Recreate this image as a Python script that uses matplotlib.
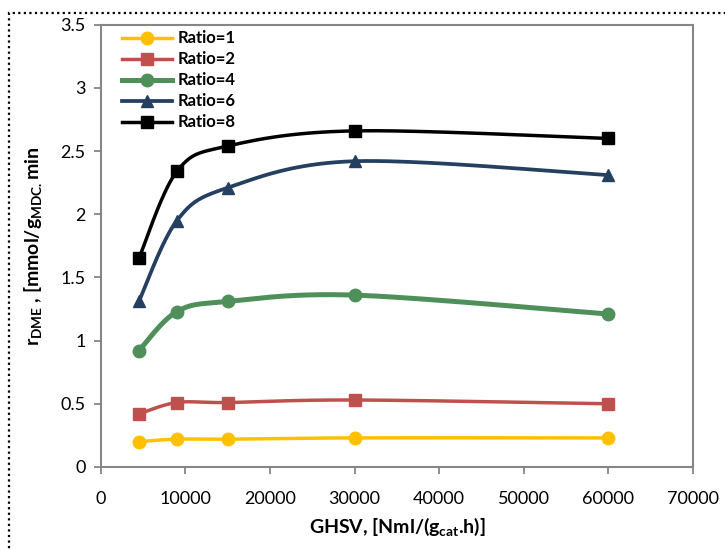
import numpy as np
import matplotlib
matplotlib.use("Agg")
import matplotlib.pyplot as plt
from matplotlib.patches import Rectangle

plt.rcParams['font.family'] = ['Lato', 'DejaVu Sans']
plt.rcParams['mathtext.fontset'] = 'custom'
plt.rcParams['mathtext.rm'] = 'Lato'
plt.rcParams['mathtext.bf'] = 'Lato:bold'

# GHSV values and rates for each feed ratio
ghsv = [4500, 9000, 15000, 30000, 60000]
ratio1 = [0.20, 0.22, 0.22, 0.23, 0.23]
ratio2 = [0.42, 0.51, 0.51, 0.53, 0.50]
ratio4 = [0.92, 1.23, 1.31, 1.36, 1.21]
ratio6 = [1.31, 1.95, 2.21, 2.42, 2.31]
ratio8 = [1.65, 2.34, 2.54, 2.66, 2.60]
labels = ['Ratio=1', 'Ratio=2', 'Ratio=4', 'Ratio=6', 'Ratio=8']

x_ticks = [0, 10000, 20000, 30000, 40000, 50000, 60000, 70000]
y_ticks = [0, 0.5, 1, 1.5, 2, 2.5, 3, 3.5]
y_tick_labels = ['0', '0.5', '1', '1.5', '2', '2.5', '3', '3.5']


def smooth(x, y, n=40):
    # Catmull-Rom style bezier, like a spreadsheet "smoothed line"
    x = np.asarray(x, float)
    y = np.asarray(y, float)
    px = np.concatenate([[x[0]], x, [x[-1]]])
    py = np.concatenate([[y[0]], y, [y[-1]]])
    xs, ys = [], []
    t = np.linspace(0, 1, n)
    for i in range(1, len(px) - 2):
        p0 = np.array([px[i], py[i]])
        p3 = np.array([px[i + 1], py[i + 1]])
        c1 = p0 + (np.array([px[i + 1], py[i + 1]]) - np.array([px[i - 1], py[i - 1]])) / 6
        c2 = p3 - (np.array([px[i + 2], py[i + 2]]) - np.array([px[i], py[i]])) / 6
        b = ((1 - t) ** 3)[:, None] * p0 + (3 * (1 - t) ** 2 * t)[:, None] * c1 \
            + (3 * (1 - t) * t ** 2)[:, None] * c2 + (t ** 3)[:, None] * p3
        xs.extend(b[:, 0])
        ys.extend(b[:, 1])
    return xs, ys


fig = plt.figure(figsize=(7.25, 5.5), dpi=100)
ax = fig.add_axes([0.139, 0.151, 0.817, 0.804])

series = [ratio1, ratio2, ratio4, ratio6, ratio8]
colors = ['#FFC000', '#C0504D', '#4F8F5A', '#243F60', '#000000']
markers = ['o', 's', 'o', '^', 's']
widths = [2.5, 2.5, 3.6, 2.7, 2.5]
msizes = [9, 8.5, 9, 9, 8.5]

for vals, c, m, lw, ms, lab in zip(series, colors, markers, widths, msizes, labels):
    sx, sy = smooth(ghsv, vals)
    ax.plot(sx, sy, color=c, lw=lw, solid_capstyle='round')
    ax.plot(ghsv, vals, linestyle='none', marker=m, color=c, markersize=ms)
    ax.plot([], [], color=c, lw=lw, marker=m, markersize=ms, label=lab)

ax.set_xlim(0, 70000)
ax.set_ylim(0, 3.5)
ax.set_xticks(x_ticks)
ax.set_xticklabels([str(v) for v in x_ticks])
ax.set_yticks(y_ticks)
ax.set_yticklabels(y_tick_labels)
ax.tick_params(direction='out', length=5, width=1.3, color='#868686',
               labelsize=13, pad=6)
ax.tick_params(axis='x', pad=12)
for sp in ax.spines.values():
    sp.set_color('#868686')
    sp.set_linewidth(1.5)

ax.set_xlabel(r'GHSV, [Nml/(g$\mathbf{_{cat}}$.h)]', fontsize=14,
              fontweight='bold', labelpad=7)
ax.set_ylabel(r'$\mathbf{r_{DME}}$ , [mmol/$\mathbf{g_{MDC.}}$min', fontsize=14,
              fontweight='bold', labelpad=12)

leg = ax.legend(loc='upper left', bbox_to_anchor=(0.035, 0.987), frameon=False,
                prop={'weight': 'bold', 'size': 12}, handlelength=3.0,
                handletextpad=0.35, labelspacing=0.3, borderpad=0,
                borderaxespad=0)

# dotted frame around the figure
fig.patches.append(Rectangle((9 / 725, -0.05), 1.1, 1 - 13 / 550 + 0.05,
                             transform=fig.transFigure, fill=False,
                             edgecolor='black', linestyle=(0, (1, 1.5)),
                             linewidth=1.6))

fig.savefig('out.png', dpi=100)
